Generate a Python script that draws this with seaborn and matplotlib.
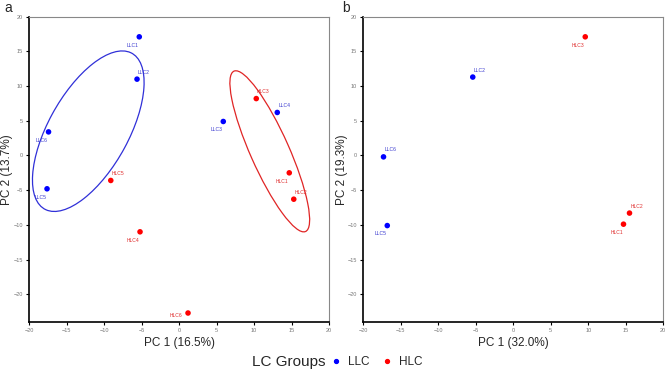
# -*- coding: utf-8 -*-
"""
PCA score plots of LC groups, panels a and b
"""

import pandas as pd
import seaborn as sns
import matplotlib.pyplot as plt
from matplotlib.patches import Ellipse
from matplotlib.lines import Line2D

#%% Data

# panel a
a_samples = ["LLC1", "LLC2", "LLC3", "LLC6", "LLC4", "LLC5",
             "HLC3", "HLC5", "HLC4", "HLC6", "HLC1", "HLC2"]
a_pc1 = [-5.3, -5.6, 5.9, -17.4, 13.1, -17.6,
         10.3, -9.1, -5.2, 1.2, 14.7, 15.3]
a_pc2 = [17.1, 11.0, 4.9, 3.4, 6.2, -4.8,
         8.2, -3.6, -11.0, -22.7, -2.5, -6.3]

# panel b
b_samples = ["LLC2", "LLC6", "LLC5", "HLC3", "HLC2", "HLC1"]
b_pc1 = [-5.4, -17.3, -16.8, 9.6, 15.5, 14.7]
b_pc2 = [11.3, -0.2, -10.1, 17.1, -8.3, -9.9]

# axis titles (explained variance)
a_xlab, a_ylab = "PC 1 (16.5%)", "PC 2 (13.7%)"
b_xlab, b_ylab = "PC 1 (32.0%)", "PC 2 (19.3%)"

# group ellipses in panel a: centre, full axes, angle
llc_ellipse = dict(xy=(-12.1, 3.5), width=25.3, height=10.8, angle=63.4)
hlc_ellipse = dict(xy=(12.1, 0.6), width=25.0, height=5.2, angle=112.3)

groups = ["LLC", "HLC"]
palette = {"LLC": "#0000ff", "HLC": "#ff0000"}
label_col = {"LLC": "#3a3ad0", "HLC": "#e03030"}

# where each sample name sits relative to its dot
a_where = {"LLC1": "ll", "LLC2": "ur", "LLC3": "ll", "LLC6": "ll", "LLC4": "ur",
           "LLC5": "ll", "HLC3": "ur", "HLC5": "ur", "HLC4": "ll", "HLC6": "l",
           "HLC1": "ll", "HLC2": "ur"}
b_where = {"LLC2": "ur", "LLC6": "ur", "LLC5": "ll", "HLC3": "ll",
           "HLC2": "ur", "HLC1": "ll"}
offsets = {"ur": (5, 5), "ll": (-5, -6), "l": (-9, -2)}


def make_df(samples, pc1, pc2):
    df = pd.DataFrame({"sample": samples, "pc1": pc1, "pc2": pc2})
    df["group"] = df["sample"].str[:3]
    return df


dfa = make_df(a_samples, a_pc1, a_pc2)
dfb = make_df(b_samples, b_pc1, b_pc2)

#%% Plot

sns.set_style("ticks")
plt.rcParams["font.family"] = ["Liberation Sans", "DejaVu Sans"]

fig = plt.figure(figsize=(6.69, 3.71), dpi=100)
ax_a = fig.add_axes([0.0434, 0.132, 0.4484, 0.823])
ax_b = fig.add_axes([0.543, 0.132, 0.4484, 0.823])


def draw_panel(ax, df, where, xlab, ylab):
    sns.scatterplot(data=df, x="pc1", y="pc2", hue="group", hue_order=groups,
                    palette=palette, s=16, edgecolor="none", legend=False,
                    ax=ax, zorder=3)
    for _, r in df.iterrows():
        ax.annotate(r["sample"], (r["pc1"], r["pc2"]),
                    xytext=offsets[where[r["sample"]]], textcoords="offset points",
                    ha="center", va="center", fontsize=3.6,
                    color=label_col[r["group"]])
    ax.set_xlim(-20, 20)
    ax.set_ylim(-24, 20)
    ax.set_xticks(range(-20, 21, 5))
    ax.set_yticks(range(-20, 21, 5))
    ax.tick_params(labelsize=4, labelcolor="#777777", length=2.5, width=0.8,
                   pad=2, color="black")
    ax.set_xlabel(xlab, fontsize=8.5, labelpad=3)
    ax.set_ylabel(ylab, fontsize=8.5)
    ax.yaxis.set_label_coords(-0.052, 0.5)
    for side in ["top", "right"]:
        ax.spines[side].set_color("#888888")
        ax.spines[side].set_linewidth(0.8)
    for side in ["left", "bottom"]:
        ax.spines[side].set_color("black")
        ax.spines[side].set_linewidth(1.2)


draw_panel(ax_a, dfa, a_where, a_xlab, a_ylab)
draw_panel(ax_b, dfb, b_where, b_xlab, b_ylab)

ax_a.add_patch(Ellipse(**llc_ellipse, fill=False, edgecolor="#3030d8", lw=0.9))
ax_a.add_patch(Ellipse(**hlc_ellipse, fill=False, edgecolor="#e02525", lw=0.9))

fig.text(0.006, 0.978, "a", fontsize=10, va="center")
fig.text(0.512, 0.978, "b", fontsize=10, va="center")

# legend along the bottom
handles = [Line2D([], [], ls="", marker="o", ms=2.8, color=palette[g]) for g in groups]
fig.text(0.432, 0.025, "LC Groups", fontsize=11, ha="center", va="center")
fig.legend(handles, groups, ncol=2, loc="center left", bbox_to_anchor=(0.478, 0.025),
           frameon=False, fontsize=8.5, handletextpad=0.5, columnspacing=1.0,
           handlelength=1.0)

plt.savefig("out.png", dpi=100)
